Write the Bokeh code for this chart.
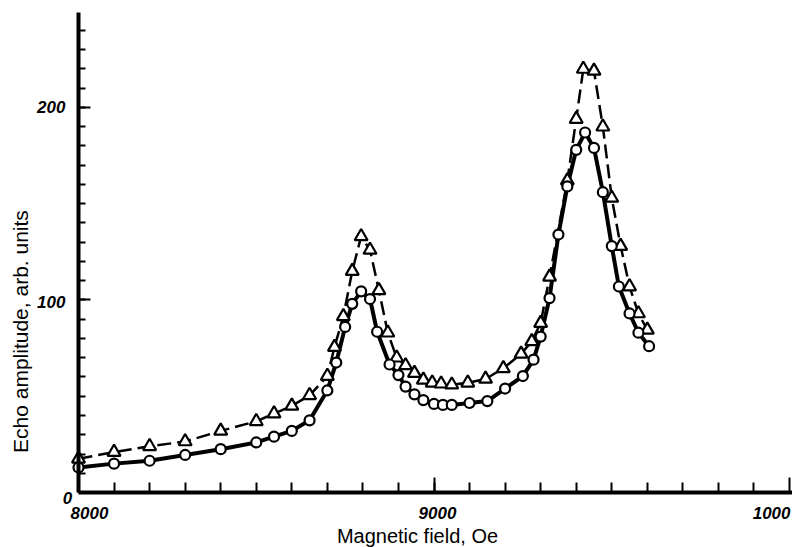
from bokeh.plotting import figure
from bokeh.models import Range1d, FixedTicker, Label, LinearAxis
from bokeh.embed import file_html
from bokeh.resources import INLINE
import math

# ---- data ----
field_circles = [8000, 8100, 8200, 8300, 8400, 8500, 8550, 8600, 8650, 8700, 8725, 8750,
                 8770, 8795, 8820, 8840, 8875, 8900, 8920, 8945, 8970, 9000, 9025, 9050,
                 9100, 9150, 9200, 9250, 9280, 9300, 9325, 9350, 9375, 9400, 9425, 9450,
                 9475, 9500, 9520, 9550, 9575, 9605]
amp_circles = [13, 15, 16.5, 19.5, 22.5, 26, 29, 32, 37.5, 53, 67.5, 86,
               98, 104.5, 100.5, 83.5, 66.5, 61, 55, 51, 48, 46, 45.5, 45.5,
               46.5, 47.5, 54, 60.5, 69, 81, 101, 134, 159, 178, 187, 179,
               156, 128, 107, 93, 83, 76]

field_triangles = [8000, 8100, 8200, 8300, 8400, 8500, 8550, 8600, 8650, 8700, 8720, 8745,
                   8770, 8795, 8820, 8845, 8870, 8895, 8920, 8945, 8970, 8995, 9020, 9050,
                   9095, 9145, 9195, 9245, 9275, 9300, 9325, 9375, 9400, 9420, 9450, 9475,
                   9500, 9525, 9550, 9575, 9600]
amp_triangles = [17.5, 21, 24, 26.5, 32, 37, 41, 45, 50.5, 60.5, 75.5, 91.5,
                 115, 133, 126, 105, 83, 70, 66, 62, 58.5, 57, 56.5, 56,
                 57, 59, 64.5, 72, 78.5, 88, 112, 162, 194, 220, 219, 190,
                 153, 128, 107, 93, 84.5]

x_major = [8000, 9000, 10000]
x_minor = [8000 + 100 * i for i in range(1, 20)]
y_major = [0, 100, 200]
y_minor = [10 * i for i in range(1, 25)]

x_tick_labels = ["8000", "9000", "1000"]
y_tick_labels = ["0", "100", "200"]
x_title = "Magnetic field, Oe"
y_title = "Echo amplitude, arb. units"

# ---- figure: frame fills the canvas, axes are placed at fixed data locations ----
W, H = 792, 547
p = figure(width=W, height=H, output_backend="svg", toolbar_location=None,
           x_range=Range1d(7780.6, 10008.4), y_range=Range1d(-28.57, 255.58),
           x_axis_location=None, y_axis_location=None,
           min_border=0, min_border_left=0, min_border_right=0,
           min_border_top=0, min_border_bottom=0)
p.outline_line_color = None
p.grid.visible = False
p.background_fill_color = "white"
p.border_fill_color = "white"

xaxis = LinearAxis(fixed_location=0, bounds=(8000, 10008.4))
yaxis = LinearAxis(fixed_location=8000, bounds=(0, 249.35))
for ax, majors, minors in ((xaxis, x_major, x_minor), (yaxis, y_major, y_minor)):
    ax.ticker = FixedTicker(ticks=majors, minor_ticks=minors)
    ax.axis_line_width = 4
    ax.axis_line_color = "black"
    ax.major_tick_line_width = 2
    ax.minor_tick_line_width = 2
    ax.major_tick_out = 0
    ax.minor_tick_out = 0
    ax.major_label_overrides = {m: "" for m in majors}
xaxis.major_tick_in = 15
xaxis.minor_tick_in = 10
yaxis.major_tick_in = 12
yaxis.minor_tick_in = 7
p.add_layout(xaxis, "below")
p.add_layout(yaxis, "left")

# ---- series ----
p.line(field_triangles, amp_triangles, line_color="black", line_width=2.5, line_dash="14 6")
p.line(field_circles, amp_circles, line_color="black", line_width=4)
p.scatter(field_triangles, amp_triangles, marker="triangle", size=13,
          fill_color="white", line_color="black", line_width=2.2)
p.scatter(field_circles, amp_circles, marker="circle", size=10,
          fill_color="white", line_color="black", line_width=2.2)

# ---- tick labels (placed to match the reference) ----
def tlabel(x, y, text, align):
    p.add_layout(Label(x=x, y=y, text=text, text_font="Liberation Sans", text_font_size="17px",
                       text_font_style="bold italic", text_color="#000000",
                       text_align=align, text_baseline="middle"))

tlabel(8030.9, -10.6, x_tick_labels[0], "center")
tlabel(9009.8, -10.6, x_tick_labels[1], "center")
tlabel(10002.8, -10.6, x_tick_labels[2], "right")
tlabel(7969.0, -2.6, y_tick_labels[0], "center")
tlabel(7963.4, 99.2, y_tick_labels[1], "right")
tlabel(7963.4, 200.0, y_tick_labels[2], "right")

# ---- axis titles ----
p.add_layout(Label(x=8953.6, y=-22.6, text=x_title, text_font="Liberation Sans",
                   text_font_size="20px", text_color="#000000",
                   text_align="center", text_baseline="middle"))
p.add_layout(Label(x=7836.8, y=83.6, text=y_title, text_font="Liberation Sans",
                   text_font_size="21px", text_color="#000000", angle=math.pi / 2,
                   text_align="center", text_baseline="middle"))

open("out.html", "w").write(file_html(p, INLINE))
